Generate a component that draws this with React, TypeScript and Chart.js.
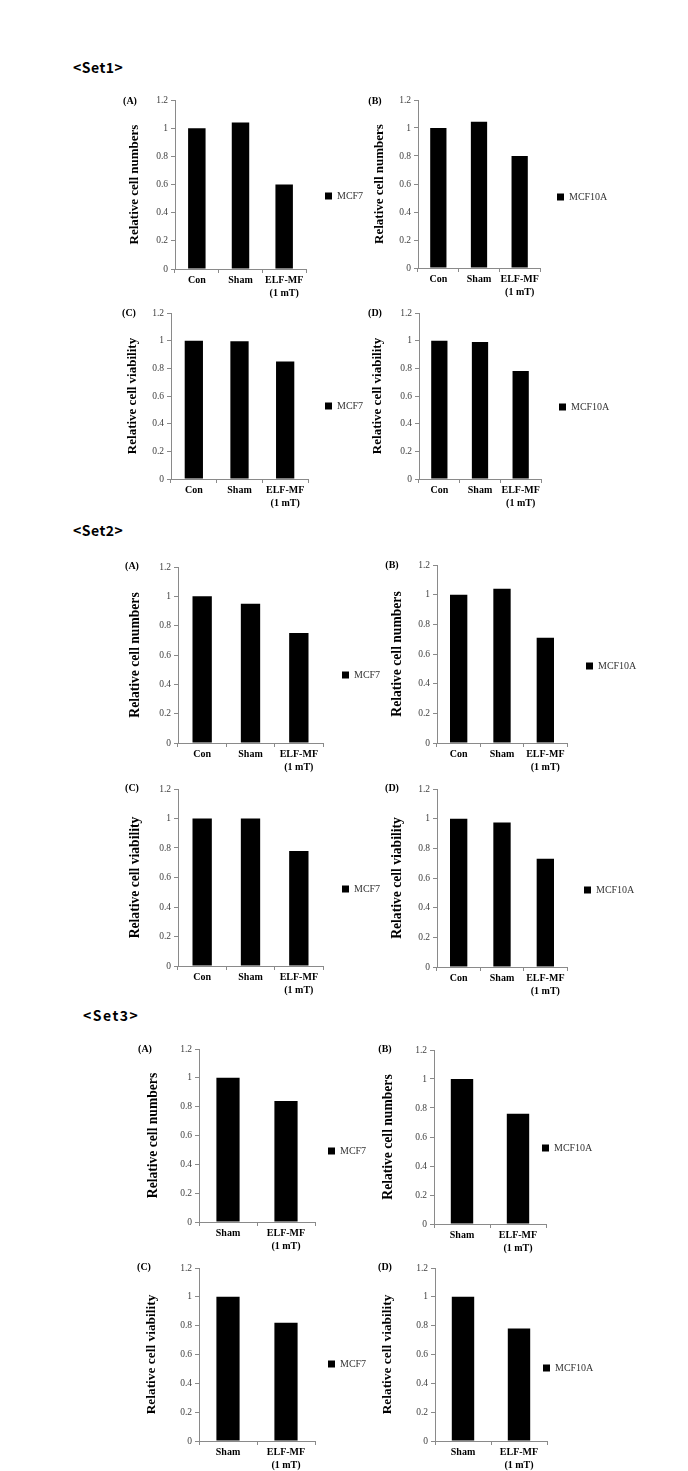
import React, { useEffect, useRef } from 'react';
import { Chart, registerables } from 'chart.js';

Chart.register(...registerables);

// ---------- data ----------
const CATS_3: (string | string[])[] = ['Con', 'Sham', ['ELF-MF', '(1 mT)']];
const CATS_2: (string | string[])[] = ['Sham', ['ELF-MF', '(1 mT)']];
const Y_TICKS = [0, 0.2, 0.4, 0.6, 0.8, 1, 1.2];
const Y_TICK_LABELS = ['0', '0.2', '0.4', '0.6', '0.8', '1', '1.2'];
const SERIES_MCF7 = 'MCF7';
const SERIES_MCF10A = 'MCF10A';
const TITLE_NUM = 'Relative cell numbers';
const TITLE_VIA = 'Relative cell viability';
const SET_HEADERS = ['<Set1>', '<Set2>', '<Set3>'];
const PANEL_LABELS = ['(A)', '(B)', '(C)', '(D)'];

const SET1_A = [1.0, 1.04, 0.6];
const SET1_B = [1.0, 1.045, 0.8];
const SET1_C = [1.0, 0.995, 0.85];
const SET1_D = [1.0, 0.99, 0.78];
const SET2_A = [1.0, 0.95, 0.75];
const SET2_B = [1.0, 1.04, 0.71];
const SET2_C = [1.0, 1.0, 0.78];
const SET2_D = [1.0, 0.975, 0.73];
const SET3_A = [1.0, 0.84];
const SET3_B = [1.0, 0.76];
const SET3_C = [1.0, 0.82];
const SET3_D = [1.0, 0.78];

// ---------- layout (positions only) ----------
type PanelCfg = {
  label: string;
  cats: (string | string[])[];
  values: number[];
  series: string;
  title: string;
  plot: [number, number, number, number]; // left, top, right, bottom
  legend: [number, number]; // box left, center y
  titleX: number;
  titleSize: number;
  labelPos: [number, number];
};

const PANELS: PanelCfg[] = [
  { label: PANEL_LABELS[0], cats: CATS_3, values: SET1_A, series: SERIES_MCF7, title: TITLE_NUM, plot: [175, 100, 306, 269], legend: [325, 196], titleX: 135, titleSize: 13, labelPos: [130, 101] },
  { label: PANEL_LABELS[1], cats: CATS_3, values: SET1_B, series: SERIES_MCF10A, title: TITLE_NUM, plot: [418, 100, 540, 268], legend: [557, 197], titleX: 380, titleSize: 13, labelPos: [375, 101] },
  { label: PANEL_LABELS[2], cats: CATS_3, values: SET1_C, series: SERIES_MCF7, title: TITLE_VIA, plot: [171, 313, 308, 479], legend: [325, 406], titleX: 133, titleSize: 13, labelPos: [129, 313] },
  { label: PANEL_LABELS[3], cats: CATS_3, values: SET1_D, series: SERIES_MCF10A, title: TITLE_VIA, plot: [419, 313, 541, 479], legend: [559, 407], titleX: 378, titleSize: 13, labelPos: [375, 313] },
  { label: PANEL_LABELS[0], cats: CATS_3, values: SET2_A, series: SERIES_MCF7, title: TITLE_NUM, plot: [178, 567, 323, 743], legend: [342, 675], titleX: 135, titleSize: 13.6, labelPos: [132, 566] },
  { label: PANEL_LABELS[1], cats: CATS_3, values: SET2_B, series: SERIES_MCF10A, title: TITLE_NUM, plot: [437, 565, 567, 743], legend: [586, 666], titleX: 397, titleSize: 13.6, labelPos: [392, 565] },
  { label: PANEL_LABELS[2], cats: CATS_3, values: SET2_C, series: SERIES_MCF7, title: TITLE_VIA, plot: [178, 789, 323, 966], legend: [342, 889], titleX: 135, titleSize: 13.6, labelPos: [132, 788] },
  { label: PANEL_LABELS[3], cats: CATS_3, values: SET2_D, series: SERIES_MCF10A, title: TITLE_VIA, plot: [437, 789, 567, 967], legend: [584, 890], titleX: 397, titleSize: 13.6, labelPos: [392, 788] },
  { label: PANEL_LABELS[0], cats: CATS_2, values: SET3_A, series: SERIES_MCF7, title: TITLE_NUM, plot: [199, 1049, 315, 1222], legend: [328, 1151], titleX: 153, titleSize: 13.6, labelPos: [145, 1049] },
  { label: PANEL_LABELS[1], cats: CATS_2, values: SET3_B, series: SERIES_MCF10A, title: TITLE_NUM, plot: [434, 1050, 546, 1224], legend: [542, 1148], titleX: 388, titleSize: 13.6, labelPos: [385, 1049] },
  { label: PANEL_LABELS[2], cats: CATS_2, values: SET3_C, series: SERIES_MCF7, title: TITLE_VIA, plot: [199, 1268, 315, 1441], legend: [328, 1364], titleX: 152, titleSize: 13.4, labelPos: [144, 1267] },
  { label: PANEL_LABELS[3], cats: CATS_2, values: SET3_D, series: SERIES_MCF10A, title: TITLE_VIA, plot: [435, 1268, 547, 1441], legend: [543, 1368], titleX: 388, titleSize: 13.4, labelPos: [385, 1267] },
];

const HEADER_POS: [number, number][] = [
  [73, 67],
  [73, 530],
  [83, 1015],
];

const SERIF = '"Liberation Serif", "Times New Roman", serif';
const AXIS_GRAY = '#8a8a8a';

// moves the built-in legend to a fixed spot
const legendPlace = {
  id: 'legendPlace',
  afterLayout(chart: any, _args: any, opts: any) {
    const lg = chart.legend;
    if (!lg || opts == null || opts.x == null) return;
    const w = lg.width;
    const h = 40;
    lg.left = opts.x;
    lg.right = opts.x + w;
    lg.top = opts.y - h / 2;
    lg.bottom = opts.y + h / 2;
    lg.height = h;
  },
};

function Panel({ p }: { p: PanelCfg }) {
  const ref = useRef<HTMLCanvasElement>(null);
  const lh = p.titleSize * 1.2;
  const L = Math.round(p.titleX - lh / 2);
  const T = p.plot[1] - 10;
  const R = p.legend[0] + 70;
  const B = p.plot[3] + 34;
  const W = R - L;
  const H = B - T;

  useEffect(() => {
    const chart = new Chart(ref.current as HTMLCanvasElement, {
      type: 'bar',
      data: {
        labels: p.cats as any,
        datasets: [
          {
            label: p.series,
            data: p.values,
            backgroundColor: '#000000',
            borderWidth: 0,
            barPercentage: 0.4,
            categoryPercentage: 1,
          },
        ],
      },
      options: {
        responsive: false,
        animation: false,
        devicePixelRatio: 1,
        layout: { padding: { top: 10, left: 0, bottom: 0, right: R - p.plot[2] } },
        plugins: {
          legend: {
            position: 'chartArea' as any,
            align: 'center',
            labels: {
              boxWidth: 7,
              boxHeight: 7,
              padding: 0,
              color: '#333333',
              font: { family: SERIF, size: 10 },
            },
          },
          tooltip: { enabled: false },
          legendPlace: { x: p.legend[0] - L, y: p.legend[1] - T },
        } as any,
        scales: {
          x: {
            grid: { display: true, drawOnChartArea: false, tickLength: 4, color: AXIS_GRAY, offset: true },
            border: { color: AXIS_GRAY },
            ticks: {
              font: { family: SERIF, size: 10, weight: 'bold', lineHeight: 1.3 },
              color: '#000000',
              padding: 1,
              maxRotation: 0,
              autoSkip: false,
            },
            afterFit: (s: any) => {
              s.height = 34;
            },
          },
          y: {
            min: 0,
            max: 1.2,
            afterBuildTicks: (s: any) => {
              s.ticks = Y_TICKS.map((v) => ({ value: v }));
            },
            ticks: {
              callback: (v: any) => Y_TICK_LABELS[Y_TICKS.indexOf(Number(v))],
              font: { family: SERIF, size: 9.5 },
              color: '#404040',
              padding: 3,
            },
            grid: { display: true, drawOnChartArea: false, tickLength: 4, color: AXIS_GRAY },
            border: { color: AXIS_GRAY },
            title: {
              display: true,
              text: p.title,
              color: '#000000',
              font: { family: SERIF, size: p.titleSize, weight: 'bold' },
              padding: 0,
            },
            afterFit: (s: any) => {
              s.width = p.plot[0] - L;
            },
          },
        },
      },
      plugins: [legendPlace as any],
    });
    return () => chart.destroy();
  }, []);

  return (
    <>
      <canvas
        ref={ref}
        width={W}
        height={H}
        style={{ position: 'absolute', left: L, top: T, width: W, height: H }}
      />
      <span
        style={{
          position: 'absolute',
          left: p.labelPos[0],
          top: p.labelPos[1],
          transform: 'translate(-50%, -50%)',
          fontFamily: SERIF,
          fontWeight: 'bold',
          fontSize: 10,
          lineHeight: 1,
          whiteSpace: 'nowrap',
          color: '#000',
        }}
      >
        {p.label}
      </span>
    </>
  );
}

export default function App() {
  return (
    <div
      style={{
        position: 'absolute',
        left: 0,
        top: 0,
        width: 688,
        height: 1471,
        overflow: 'hidden',
        background: '#ffffff',
      }}
    >
      {SET_HEADERS.map((h, i) => (
        <span
          key={h}
          style={{
            position: 'absolute',
            left: HEADER_POS[i][0],
            top: HEADER_POS[i][1],
            transform: 'translateY(-50%)',
            fontFamily: '"Noto Sans CJK KR", "Noto Sans", sans-serif',
            fontWeight: 'bold',
            fontSize: 14,
            lineHeight: 1,
            letterSpacing: i === 2 ? 1.5 : 0.5,
            whiteSpace: 'nowrap',
            color: '#000',
          }}
        >
          {h}
        </span>
      ))}
      {PANELS.map((p, i) => (
        <Panel key={i} p={p} />
      ))}
    </div>
  );
}
